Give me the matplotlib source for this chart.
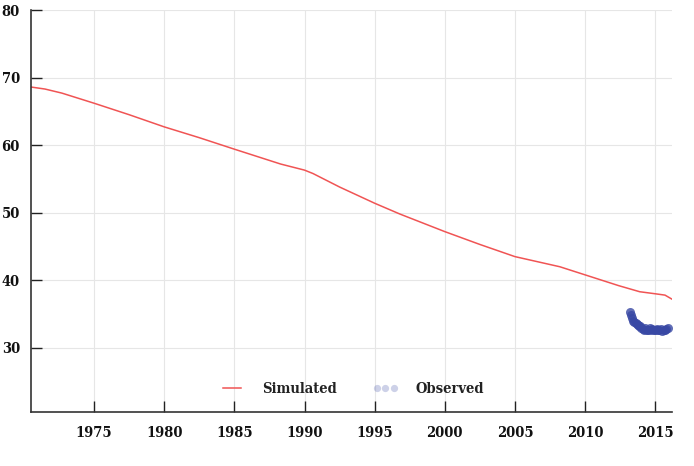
import matplotlib
matplotlib.use("Agg")
import matplotlib.pyplot as plt

sim_years = [1970.5, 1971.5, 1972.7, 1975, 1977.5, 1980, 1982.5, 1985, 1988.3, 1990, 1990.6,
             1992.5, 1995, 1996.8, 2000, 2002.5, 2005, 2008.2, 2010, 2012.4, 2013.9,
             2015, 2015.7, 2016.2]
sim_values = [68.6, 68.3, 67.7, 66.2, 64.5, 62.7, 61.1, 59.4, 57.2, 56.3, 55.8,
              53.8, 51.4, 49.8, 47.2, 45.3, 43.5, 42.0, 40.8, 39.2, 38.3,
              38.0, 37.8, 37.2]

obs_years = [2013.2, 2013.28, 2013.36, 2013.44, 2013.52, 2013.6, 2013.68, 2013.76, 2013.84,
             2013.92, 2014.0, 2014.1, 2014.2, 2014.3, 2014.4, 2014.5, 2014.6, 2014.7,
             2014.8, 2014.9, 2015.0, 2015.1, 2015.2, 2015.3, 2015.4, 2015.5, 2015.6,
             2015.7, 2015.8, 2015.88]
obs_values = [35.3, 34.9, 34.4, 34.0, 33.8, 33.7, 33.5, 33.4, 33.3,
              33.2, 33.0, 32.8, 32.7, 32.9, 32.6, 32.7, 32.9, 32.6,
              32.8, 32.7, 32.6, 32.8, 32.7, 32.6, 32.8, 32.5, 32.6,
              32.7, 32.8, 32.9]

x_ticks = [1975, 1980, 1985, 1990, 1995, 2000, 2005, 2010, 2015]
y_ticks = [30, 40, 50, 60, 70, 80]

plt.rcParams['font.family'] = ['DejaVu Serif']
plt.rcParams['font.stretch'] = 'condensed'
fig = plt.figure(figsize=(6.94, 4.66), dpi=100)
ax = fig.add_axes([31/694, 1 - 412/466, (672-31)/694, (412-10)/466])

ax.plot(sim_years, sim_values, color='#f05454', lw=1.1, label='Simulated')
ax.plot(obs_years, obs_values, 'o', color='#3848a4', alpha=0.8, ms=6.5,
        markeredgewidth=0, label='Observed')

ax.set_xlim(1970.5, 2016.2)
ax.set_ylim(20.5, 80)
ax.set_xticks(x_ticks)
ax.set_yticks(y_ticks)
ax.grid(True, color='#e6e6e6', lw=0.8)
ax.set_axisbelow(True)
for s in ['top', 'right']:
    ax.spines[s].set_visible(False)
for s in ['left', 'bottom']:
    ax.spines[s].set_color('#333333')
    ax.spines[s].set_linewidth(1.2)
ax.tick_params(axis='both', direction='in', length=8, width=1, color='#222222',
               labelsize=10.5)
ax.tick_params(axis='x', pad=10)
ax.tick_params(axis='y', pad=8)
for lab in ax.get_xticklabels() + ax.get_yticklabels():
    lab.set_fontweight('bold')
    lab.set_fontstretch('condensed')
    lab.set_color('#111111')

leg = ax.legend(loc='center', ncol=2, frameon=False, numpoints=3,
                prop={'weight': 'bold', 'size': 10.5, 'stretch': 'condensed'},
                bbox_to_anchor=(0.5, 0.057),
                handlelength=1.8, handletextpad=1.2, columnspacing=2.4, markerscale=0.8)
leg.legend_handles[1].set_alpha(0.25)
for t in leg.get_texts():
    t.set_color('#222222')

fig.savefig('out.png', dpi=100)
